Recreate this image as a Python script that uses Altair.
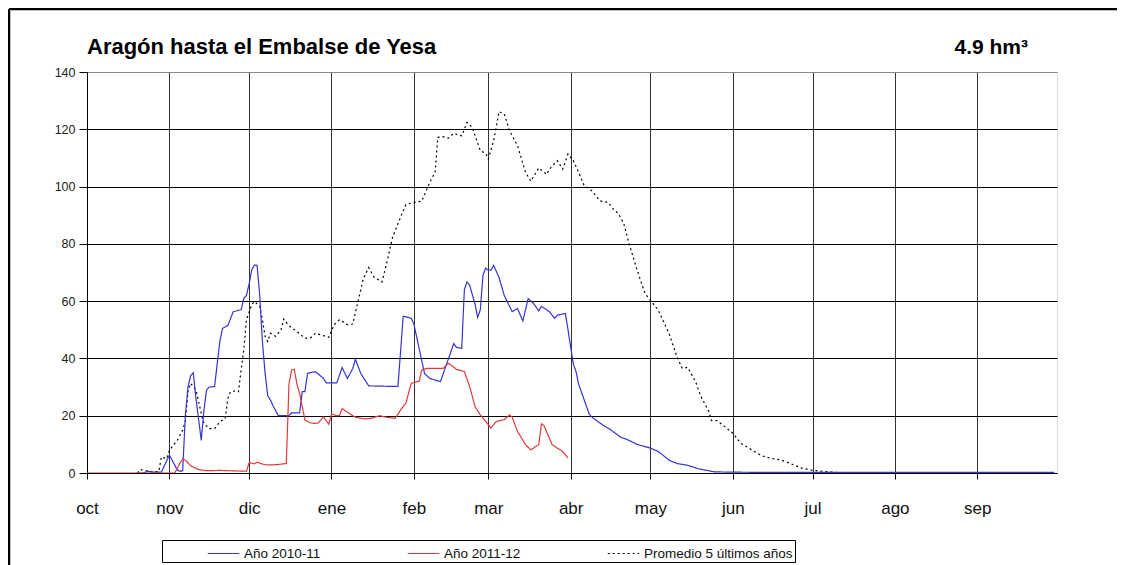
import altair as alt
import pandas as pd

TITLE = "Aragón hasta el  Embalse de Yesa"
VOLUME = "4.9 hm³"
SERIES = ["Año 2010-11", "Año 2011-12", "Promedio 5 últimos años"]
COLORS = ["#3434d2", "#e23a3a", "#000000"]
MONTHS = ["oct", "nov", "dic", "ene", "feb", "mar", "abr", "may", "jun", "jul", "ago", "sep"]
Y_TICKS = [0, 20, 40, 60, 80, 100, 120, 140]

# Año 2010-11 (blue)
blue_dates = [
    "2010-10-20", "2010-10-22", "2010-10-24", "2010-10-26", "2010-10-29", "2010-11-01",
    "2010-11-04", "2010-11-05", "2010-11-06", "2010-11-07", "2010-11-08", "2010-11-09",
    "2010-11-10", "2010-11-11", "2010-11-13", "2010-11-14", "2010-11-15", "2010-11-16",
    "2010-11-18", "2010-11-20", "2010-11-21", "2010-11-23", "2010-11-25", "2010-11-28",
    "2010-11-29", "2010-11-30", "2010-12-01", "2010-12-02", "2010-12-03", "2010-12-04",
    "2010-12-05", "2010-12-06", "2010-12-07", "2010-12-08", "2010-12-09", "2010-12-10",
    "2010-12-12", "2010-12-16", "2010-12-17", "2010-12-20", "2010-12-21", "2010-12-22",
    "2010-12-23", "2010-12-26", "2010-12-29", "2010-12-30", "2011-01-03", "2011-01-05",
    "2011-01-07", "2011-01-09", "2011-01-10", "2011-01-12", "2011-01-15", "2011-01-26",
    "2011-01-28", "2011-01-31", "2011-02-01", "2011-02-05", "2011-02-07", "2011-02-11",
    "2011-02-16", "2011-02-17", "2011-02-19", "2011-02-20", "2011-02-21", "2011-02-22",
    "2011-02-24", "2011-02-25", "2011-02-26", "2011-02-27", "2011-02-28", "2011-03-01",
    "2011-03-02", "2011-03-03", "2011-03-05", "2011-03-07", "2011-03-10", "2011-03-12",
    "2011-03-14", "2011-03-16", "2011-03-18", "2011-03-20", "2011-03-21", "2011-03-24",
    "2011-03-26", "2011-03-27", "2011-03-30", "2011-03-31", "2011-04-02", "2011-04-03",
    "2011-04-04", "2011-04-08", "2011-04-09", "2011-04-13", "2011-04-16", "2011-04-20",
    "2011-04-22", "2011-04-26", "2011-05-01", "2011-05-04", "2011-05-06", "2011-05-08",
    "2011-05-11", "2011-05-15", "2011-05-19", "2011-05-25", "2011-05-31", "2011-06-15",
    "2011-09-30",
]
blue_vals = [
    0, 0, 0.6, 0.3, 0.3, 6.3,
    1.0, 0.6, 0.8, 20, 30, 34,
    35, 26, 11.4, 22, 29, 30,
    30.2, 46, 50.5, 51.5, 56.3, 57,
    61, 62, 66, 71, 72.6, 72.5,
    62, 46, 35, 27, 25.5, 23.5,
    20, 20, 21, 21, 28.4, 28.4,
    34.8, 35.4, 33, 31.5, 31.5, 36.8,
    33, 36.5, 39.7, 34.8, 30.4, 30.2,
    54.8, 54, 52, 34.8, 33, 31.9,
    45.2, 43.9, 43.5, 64, 66.7, 65.5,
    59, 54.3, 57, 69, 71.5, 70.8,
    70.8, 72.5, 68.4, 62, 56.3, 57.4,
    53.1, 60.9, 59.2, 56.6, 58.2, 56.3,
    54, 55.1, 55.7, 50, 38, 35.5,
    31, 20.5, 19.5, 16.8, 15.1, 12.4,
    11.8, 10, 8.7, 7.5, 6, 4.5,
    3.3, 2.7, 1.5, 0.4, 0.3, 0.2,
    0.2,
]

# Año 2011-12 (red)
red_dates = [
    "2010-10-01", "2010-11-03", "2010-11-05", "2010-11-06", "2010-11-07", "2010-11-09",
    "2010-11-12", "2010-11-15", "2010-11-20", "2010-11-30", "2010-12-01", "2010-12-02",
    "2010-12-03", "2010-12-04", "2010-12-06", "2010-12-08", "2010-12-11", "2010-12-15",
    "2010-12-16", "2010-12-17", "2010-12-18", "2010-12-19", "2010-12-20", "2010-12-22",
    "2010-12-24", "2010-12-26", "2010-12-27", "2010-12-29", "2010-12-31", "2011-01-01",
    "2011-01-03", "2011-01-04", "2011-01-05", "2011-01-08", "2011-01-10", "2011-01-13",
    "2011-01-16", "2011-01-19", "2011-01-22", "2011-01-25", "2011-01-27", "2011-01-29",
    "2011-01-31", "2011-02-01", "2011-02-03", "2011-02-04", "2011-02-06", "2011-02-12",
    "2011-02-14", "2011-02-15", "2011-02-17", "2011-02-20", "2011-02-22", "2011-02-24",
    "2011-02-26", "2011-02-28", "2011-03-02", "2011-03-04", "2011-03-07", "2011-03-09",
    "2011-03-10", "2011-03-12", "2011-03-15", "2011-03-17", "2011-03-20", "2011-03-21",
    "2011-03-22", "2011-03-25", "2011-03-29", "2011-03-31",
]
red_vals = [
    0, 0, 3.5, 4.8, 4.5, 2.5,
    1.2, 0.8, 0.9, 0.6, 3.6, 3.4,
    3.2, 3.8, 3.1, 2.8, 2.9, 3.3,
    31, 36, 36.2, 31, 27.8, 18.5,
    17.5, 17.3, 17.5, 19.6, 17, 20.6,
    20, 20, 22.5, 20.6, 19.5, 18.9,
    19.1, 20, 19.4, 19.1, 22, 24.4,
    31.3, 31.6, 32, 36, 36.5, 36.5,
    38.3, 37.7, 36.2, 35.4, 30.2, 23.2,
    20.3, 18, 15.7, 18, 18.6, 20.3,
    19.5, 14.5, 9.9, 8.1, 9.9, 17.2,
    16.5, 9.9, 7.5, 5.2,
]

# Promedio 5 últimos años (dotted black)
avg_dates = [
    "2010-10-20", "2010-10-21", "2010-10-23", "2010-10-25", "2010-10-28", "2010-10-29",
    "2010-10-31", "2010-11-01", "2010-11-03", "2010-11-04", "2010-11-06", "2010-11-07",
    "2010-11-08", "2010-11-09", "2010-11-11", "2010-11-13", "2010-11-14", "2010-11-16",
    "2010-11-18", "2010-11-20", "2010-11-22", "2010-11-23", "2010-11-24", "2010-11-26",
    "2010-11-27", "2010-11-28", "2010-11-29", "2010-11-30", "2010-12-02", "2010-12-03",
    "2010-12-05", "2010-12-06", "2010-12-07", "2010-12-08", "2010-12-09", "2010-12-11",
    "2010-12-13", "2010-12-14", "2010-12-16", "2010-12-19", "2010-12-22", "2010-12-24",
    "2010-12-26", "2010-12-28", "2010-12-31", "2011-01-02", "2011-01-04", "2011-01-07",
    "2011-01-09", "2011-01-11", "2011-01-13", "2011-01-15", "2011-01-17", "2011-01-20",
    "2011-01-22", "2011-01-24", "2011-01-27", "2011-01-29", "2011-02-01", "2011-02-04",
    "2011-02-07", "2011-02-09", "2011-02-10", "2011-02-12", "2011-02-14", "2011-02-16",
    "2011-02-19", "2011-02-21", "2011-02-23", "2011-02-26", "2011-02-28", "2011-03-01",
    "2011-03-03", "2011-03-04", "2011-03-05", "2011-03-07", "2011-03-09", "2011-03-12",
    "2011-03-15", "2011-03-17", "2011-03-20", "2011-03-23", "2011-03-24", "2011-03-27",
    "2011-03-29", "2011-03-31", "2011-04-02", "2011-04-04", "2011-04-06", "2011-04-09",
    "2011-04-12", "2011-04-15", "2011-04-17", "2011-04-19", "2011-04-21", "2011-04-23",
    "2011-04-26", "2011-04-29", "2011-05-01", "2011-05-04", "2011-05-08", "2011-05-11",
    "2011-05-13", "2011-05-15", "2011-05-18", "2011-05-20", "2011-05-23", "2011-05-24",
    "2011-05-26", "2011-05-29", "2011-06-01", "2011-06-04", "2011-06-07", "2011-06-12",
    "2011-06-15", "2011-06-19", "2011-06-23", "2011-06-27", "2011-07-01", "2011-07-05",
    "2011-07-10", "2011-07-12",
]
avg_vals = [
    0, 1.2, 0.9, 0.4, 0.5, 5.6,
    5, 7.9, 10.3, 11.4, 15, 18,
    28.4, 31.3, 29, 20.8, 17.3, 15.5,
    15.5, 17.9, 19, 26, 28.4, 28.7,
    28.4, 36, 43, 53.5, 58.8, 59.9,
    58.2, 53.5, 47.7, 45.9, 48.8, 47.7,
    50, 53.7, 51.4, 49.4, 47.1, 47.1,
    48.8, 48.2, 47.4, 51.8, 53.5, 51.8,
    52, 60, 67.9, 71.7, 68.4, 66.7,
    74.2, 82.4, 89.3, 93.7, 94.5, 94.9,
    101.5, 105, 117.2, 117.4, 116.9, 118.6,
    117.7, 122.4, 120.6, 112.5, 111.6, 109.6,
    116, 120.6, 126.2, 125.3, 119.5, 114.3,
    105, 101.9, 106.5, 104.2, 106.1, 109,
    106.1, 111.4, 109, 105, 100.5, 98.5,
    95, 94.5, 92.2, 90.5, 87, 80,
    70.8, 62.6, 60.3, 56.8, 48.7, 40.6,
    36.5, 36.9, 31.9, 26.7, 21.5, 18.3,
    18.3, 16.2, 13.9, 10.4, 8.7, 6,
    5.2, 4.6, 3.2, 1.7, 0.9, 0.6,
    0.2, 0,
]

rows = []
for name, ds, vs in [(SERIES[2], avg_dates, avg_vals),
                     (SERIES[0], blue_dates, blue_vals),
                     (SERIES[1], red_dates, red_vals)]:
    for d, v in zip(ds, vs):
        rows.append({"fecha": d, "valor": v, "serie": name})
df = pd.DataFrame(rows)

cal_labels = [MONTHS[(i + 3) % 12] for i in range(12)]
label_expr = "[" + ",".join("'%s'" % m for m in cal_labels) + "][utcmonth(datum.value)]"

month_ticks = []
for i in range(12):
    m = (10 + i - 1) % 12 + 1
    y = 2010 if m >= 10 else 2011
    month_ticks.append(alt.DateTime(year=y, month=m, date=1, utc=True))

x_scale = alt.Scale(type="utc", domain=[alt.DateTime(year=2010, month=10, date=1, utc=True),
                                        alt.DateTime(year=2011, month=10, date=1, utc=True)])

legend = alt.Legend(
    title="\u00a0", titleOrient="left", titlePadding=48, titleFontSize=12,
    orient="none", legendX=75, legendY=468, direction="horizontal", columns=3,
    symbolType="M-1.5,0L1.5,0", symbolSize=441, symbolStrokeWidth=1.4,
    labelFontSize=13.5, labelFont="Liberation Sans", labelColor="#111", labelOffset=9,
    labelLimit=320, columnPadding=84, padding=2, strokeColor="black",
)

lines = alt.Chart(df).mark_line(clip=True).encode(
    x=alt.X("fecha:T", scale=x_scale, title=None,
            axis=alt.Axis(values=month_ticks, labelExpr=label_expr, labelFontSize=17,
                          labelColor="#111", labelFont="Liberation Sans", tickSize=6,
                          labelPadding=21, labelFlush=False, gridColor="#333",
                          gridWidth=1, domainColor="black", tickColor="black")),
    y=alt.Y("valor:Q", scale=alt.Scale(domain=[0, 140], nice=False), title=None,
            axis=alt.Axis(values=Y_TICKS, labelFontSize=12.5, labelColor="#222",
                          labelFont="Liberation Sans", tickSize=8, labelPadding=4,
                          domainColor="black", tickColor="black",
                          gridColor={"condition": {"test": "datum.value == 140", "value": "#888"},
                                     "value": "black"})),
    color=alt.Color("serie:N", scale=alt.Scale(domain=SERIES, range=COLORS), legend=legend),
    strokeDash=alt.StrokeDash("serie:N", scale=alt.Scale(domain=SERIES, range=[[1, 0], [1, 0], [2, 3]]),
                              legend=legend),
    strokeWidth=alt.StrokeWidth("serie:N", scale=alt.Scale(domain=SERIES, range=[1.2, 1.2, 1.7]),
                                legend=None),
)

vol = alt.Chart(pd.DataFrame({"t": [VOLUME]})).mark_text(
    align="right", baseline="alphabetic", fontSize=21, fontWeight="bold",
    font="Liberation Sans", color="black"
).encode(text="t:N", x=alt.value(941), y=alt.value(-18))

frame = pd.DataFrame({"k": [0]})
frame_top = alt.Chart(frame).mark_rule(color="black", strokeWidth=2.5).encode(
    x=alt.value(-78), x2=alt.value(1040), y=alt.value(-63))
frame_left = alt.Chart(frame).mark_rule(color="black", strokeWidth=2.5).encode(
    x=alt.value(-78), y=alt.value(-63), y2=alt.value(500))

chart = alt.layer(frame_top, frame_left, lines, vol).properties(
    width=970, height=401,
    padding={"left": 79, "top": 64, "right": 60, "bottom": 92},
    autosize=alt.AutoSizeParams(type="none"),
    title=alt.TitleParams(TITLE, anchor="start", frame="group", fontSize=22, fontWeight="bold",
                          font="Liberation Sans", color="black", baseline="alphabetic",
                          offset=-68),
).configure_view(stroke="#888", strokeWidth=1).configure(font="Liberation Sans")

chart.save("out.html", embed_options={"renderer": "svg", "actions": False})
